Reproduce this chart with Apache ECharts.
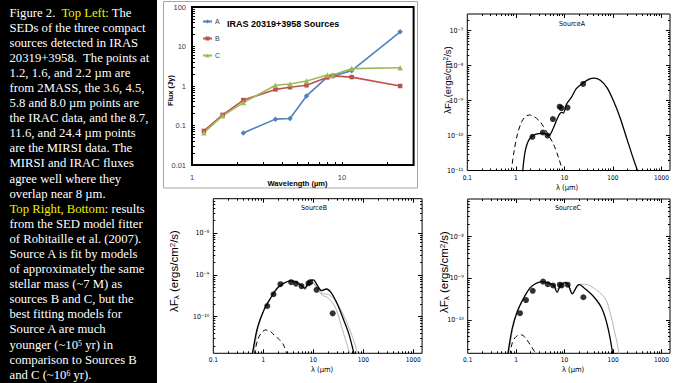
<!DOCTYPE html>
<html><head><meta charset="utf-8">
<script src="https://cdn.jsdelivr.net/npm/echarts@6/dist/echarts.min.js"></script>
<style>
html,body{margin:0;padding:0;background:#fff;overflow:hidden;}
#chart{position:absolute;left:0;top:0;width:673px;height:383px;}
#cap{position:absolute;left:0;top:0;width:157px;height:383px;background:#000;color:#fff;overflow:hidden;
 font-family:"Liberation Serif","Times New Roman",Tinos,"Nimbus Roman","DejaVu Serif",serif;font-size:12.8px;line-height:15.1px;
 padding:5.5px 0 0 9.5px;box-sizing:border-box;white-space:nowrap;}
.y{color:#f0f000}
sup{font-size:0.62em;line-height:0;vertical-align:0.4em}
</style></head><body>
<div id="chart"></div>
<div id="cap"><span id="l1">Figure 2.&nbsp; <span class="y">Top Left:</span> The</span><br><span id="probe">SEDs of the three compact</span><br>sources detected in IRAS<br>20319+3958.&nbsp; The points at<br>1.2, 1.6, and 2.2 µm are<br>from 2MASS, the 3.6, 4.5,<br>5.8 and 8.0 µm points are<br>the IRAC data, and the 8.7,<br>11.6, and 24.4 µm points<br>are the MIRSI data. The<br>MIRSI and IRAC fluxes<br>agree well where they<br>overlap near 8 µm.<br><span class="y">Top Right, Bottom</span>: results<br>from the SED model fitter<br>of Robitaille et al. (2007).<br>Source A is fit by models<br>of approximately the same<br>stellar mass (~7 M) as<br>sources B and C, but the<br>best fitting models for<br>Source A are much<br>younger (~10<sup>5</sup> yr) in<br>comparison to Sources B<br>and C (~10<sup>6</sup> yr).</div>
<script>
// ---------- Top-left chart data (Flux in Jy) ----------
const tlWave = [1.2, 1.6, 2.2, 3.6, 4.5, 5.8, 8.0, 8.7, 11.6, 24.4];
const fluxA = [null, null, 0.065, 0.145, 0.15, 0.56, 1.7, 1.8, 2.45, 23.6];
const fluxB = [0.073, 0.186, 0.44, 0.82, 0.93, 1.04, 1.66, 1.8, 1.68, 1.0];
const fluxC = [0.066, 0.176, 0.38, 1.04, 1.12, 1.34, 1.9, 1.9, 2.76, 2.9];
const tlSeriesNames = ['A', 'B', 'C'];

// ---------- SED photometry (lambda F_lambda, erg/cm2/s) ----------
const photWave = [1.2, 1.6, 2.2, 3.6, 4.5, 5.8, 8.0, 8.7, 11.6, 24.4];
const photA = [null, null, 9.2e-11, 1.22e-10, 1.0e-10, 2.96e-10, 6.7e-10, 6.1e-10, 6.3e-10, 3.0e-9];
const photB = [1.8e-10, 3.45e-10, 6.0e-10, 6.7e-10, 6.2e-10, 5.4e-10, 6.3e-10, 6.7e-10, 4.4e-10, 1.2e-10];
const photC = [1.45e-10, 3.0e-10, 5.0e-10, 8.3e-10, 7.2e-10, 6.7e-10, 7.0e-10, 6.7e-10, 7.0e-10, 3.5e-10];

// ---------- SED model curves ----------
const modelAWave = [1.38, 1.56, 1.9, 2.58, 3.8, 4.8, 6.0, 7.6, 8.8, 9.5, 11.1, 14, 17.6, 24, 32.5, 41, 55, 76, 102, 140, 190, 260, 330];
const modelAFlux = [9e-12, 3.6e-11, 7.9e-11, 1.1e-10, 1.15e-10, 1.0e-10, 1.7e-10, 3.7e-10, 4.6e-10, 4.4e-10, 8e-10, 1.25e-9, 2.2e-9, 3.15e-9, 4.1e-9, 4.4e-9, 3.8e-9, 2.3e-9, 1e-9, 3.3e-10, 8.8e-11, 2.3e-11, 9e-12];
const starAWave = [0.8, 0.92, 1.08, 1.3, 1.56, 1.9, 2.4, 3.25, 4.4, 6.0, 7.6, 9.4];
const starAFlux = [9e-12, 3.6e-11, 1.1e-10, 2.37e-10, 3.46e-10, 3.87e-10, 3.46e-10, 2.37e-10, 1.2e-10, 5.6e-11, 2.3e-11, 9e-12];

const modelBWave = [0.6, 0.76, 1.03, 1.39, 1.89, 2.54, 3.45, 4.67, 5.85, 6.8, 7.9, 10, 12.4, 14.5, 18.2, 22.9, 30.8, 41.7, 52.3, 66];
const modelBFlux = [1.2e-11, 5.3e-11, 1.45e-10, 2.76e-10, 4.8e-10, 6.3e-10, 7.2e-10, 6.7e-10, 5.55e-10, 4.8e-10, 6.7e-10, 7.6e-10, 5.3e-10, 4.2e-10, 4.6e-10, 3.7e-10, 1.9e-10, 7.6e-11, 3.6e-11, 1.2e-11];
const greyB1Wave = [0.62, 0.76, 1.03, 1.39, 1.89, 2.54, 3.45, 4.67, 5.85, 6.8, 8, 10, 12.4, 15, 20, 28, 38, 48, 56];
const greyB1Flux = [1.2e-11, 5e-11, 1.4e-10, 2.7e-10, 4.7e-10, 6.2e-10, 7e-10, 6.4e-10, 5.2e-10, 4.4e-10, 5.8e-10, 6.2e-10, 4.3e-10, 3.3e-10, 2.8e-10, 1.6e-10, 5e-11, 2e-11, 1.1e-11];
const greyB2Wave = [0.64, 0.78, 1.03, 1.39, 1.89, 2.54, 3.45, 4.67, 5.85, 6.8, 8, 10, 12.4, 15, 20, 28, 40, 55, 68, 80];
const greyB2Flux = [1.2e-11, 5e-11, 1.4e-10, 2.7e-10, 4.7e-10, 6.2e-10, 7.1e-10, 6.5e-10, 5.4e-10, 4.6e-10, 6.0e-10, 6.6e-10, 4.6e-10, 3.6e-10, 3.4e-10, 2.4e-10, 1.1e-10, 4.5e-11, 2.2e-11, 1.1e-11];
const starBWave = [0.66, 0.76, 0.9, 1.11, 1.4, 1.65, 2.1, 2.54, 3.0];
const starBFlux = [1.2e-11, 2.6e-11, 4.0e-11, 4.8e-11, 4.4e-11, 3.6e-11, 2.8e-11, 2.1e-11, 1.2e-11];

const modelCWave = [0.66, 0.83, 1.05, 1.42, 1.92, 2.6, 3.5, 4.78, 6.0, 7.0, 8.2, 10.5, 12.3, 14.4, 18.2, 20.3, 25.5, 40, 58.6, 79, 100];
const modelCFlux = [1.3e-11, 6.3e-11, 1.58e-10, 3.3e-10, 5.8e-10, 7.6e-10, 8.3e-10, 7.6e-10, 6.7e-10, 4.6e-10, 6.7e-10, 8e-10, 6.3e-10, 4.2e-10, 6.6e-10, 7e-10, 5.8e-10, 3.6e-10, 1.9e-10, 6.3e-11, 1.4e-11];
const greyCWave = [0.7, 0.85, 1.05, 1.42, 1.92, 2.6, 3.5, 4.78, 6, 7, 8.2, 10.5, 12.3, 14.4, 18.2, 22, 30, 45, 60, 74, 90, 100, 120, 135];
const greyCFlux = [1.4e-11, 6e-11, 1.5e-10, 3.2e-10, 5.7e-10, 7.5e-10, 8.2e-10, 7.7e-10, 6.9e-10, 5.5e-10, 6.6e-10, 7.6e-10, 6.3e-10, 4.6e-10, 6.5e-10, 7.2e-10, 7e-10, 5.3e-10, 4e-10, 2.8e-10, 1.3e-10, 7.6e-11, 3e-11, 1.4e-11];
const starCWave = [0.75, 0.83, 1.0, 1.26, 1.5, 1.92, 2.6, 2.9];
const starCFlux = [1.4e-11, 2.8e-11, 4.0e-11, 4.4e-11, 3.9e-11, 2.6e-11, 1.5e-11, 1.3e-11];

// ---------- caption font: pick an installed Times-like face and fit the reference line width ----------
(function fitCaption() {
  const cap = document.getElementById('cap');
  const cands = ['Liberation Serif', 'Times New Roman', 'Tinos', 'Nimbus Roman', 'Nimbus Roman No9 L', 'FreeSerif', 'DejaVu Serif', 'Noto Serif'];
  const ctx = document.createElement('canvas').getContext('2d');
  const test = 'SEDs of the three compact WMiil 0123';
  let chosen = null;
  for (const fam of cands) {
    let same = true;
    for (const fb of ['monospace', 'sans-serif']) {
      ctx.font = '40px ' + fb; const b = ctx.measureText(test).width;
      ctx.font = '40px "' + fam + '", ' + fb; const w = ctx.measureText(test).width;
      if (Math.abs(w - b) > 0.5) { same = false; }
    }
    if (!same) { chosen = fam; break; }
  }
  const famCss = chosen ? '"' + chosen + '", serif' : 'serif';
  cap.style.fontFamily = famCss;
  ctx.font = '100px ' + famCss;
  const w100 = ctx.measureText('SEDs of the three compact').width;
  let fs = 136 / w100 * 100;
  fs = Math.max(10, Math.min(14, fs));
  cap.style.fontSize = fs.toFixed(2) + 'px';
})();

// ---------- helpers ----------
const LOG = Math.log10;
function zip(xs, ys) { return xs.map((x, i) => ys[i] == null ? null : [x, ys[i]]).filter(Boolean); }
function logVals(lo, hi, ks) {
  const out = [];
  for (let d = Math.floor(LOG(lo)) - 1; d <= Math.ceil(LOG(hi)); d++)
    for (const k of ks) { const v = k * Math.pow(10, d); if (v >= lo * 1.0001 && v <= hi * 0.9999) out.push(LOG(v)); }
  return out;
}
const SUP = {'-': '⁻', '0': '⁰', '1': '¹', '2': '²', '3': '³', '4': '⁴', '5': '⁵', '6': '⁶', '7': '⁷', '8': '⁸', '9': '⁹'};
function isPow(v) { const e = LOG(v); return Math.abs(e - Math.round(e)) < 1e-6; }
function powLabel(v) { if (!isPow(v)) return ''; const r = Math.round(LOG(v)); return '10' + String(r).split('').map(c => SUP[c]).join(''); }
function numLabel(v) { if (!isPow(v)) return ''; const r = Math.round(LOG(v)); return r >= 0 ? String(Math.round(v)) : v.toFixed(-r); }

const SANS = '"Liberation Sans", Arial, sans-serif';
const NARROW = '"Liberation Sans Narrow", "DejaVu Sans Condensed", "Liberation Sans", sans-serif';

const grid = [], xAxis = [], yAxis = [], series = [];
function mainAxis(kind, gi, pos, lo, hi, fmt, lab) {
  const arr = kind === 'x' ? xAxis : yAxis;
  arr.push({type: 'log', logBase: 10, gridIndex: gi, position: pos, min: lo, max: hi,
    axisLine: {show: false, onZero: false}, axisTick: {show: false}, splitLine: {show: false},
    minorTick: {show: false}, minorSplitLine: {show: false},
    axisLabel: Object.assign({formatter: fmt, showMinLabel: true, showMaxLabel: true}, lab)});
  return arr.length - 1;
}
function tickAxis(kind, gi, pos, lo, hi, ks, len) {
  const arr = kind === 'x' ? xAxis : yAxis;
  arr.push({type: 'value', gridIndex: gi, position: pos, min: LOG(lo), max: LOG(hi), silent: true,
    axisLine: {show: false, onZero: false}, axisLabel: {show: false}, splitLine: {show: false},
    axisTick: {show: true, inside: true, length: len, customValues: logVals(lo, hi, ks), lineStyle: {color: '#000', width: 1}}});
}

// ---------- Top-left chart ----------
const TLX = [1, 30], TLY = [0.01, 100];
grid.push({left: 192, top: 7, width: 221.6, height: 158, show: true, borderColor: '#000', borderWidth: 2, backgroundColor: 'transparent'});
const tlx = mainAxis('x', 0, 'bottom', TLX[0], TLX[1], numLabel, {fontSize: 7.5, color: '#404040', fontFamily: SANS, margin: 8});
const tly = mainAxis('y', 0, 'left', TLY[0], TLY[1], numLabel, {fontSize: 7.5, color: '#404040', fontFamily: SANS, margin: 6});
tickAxis('x', 0, 'bottom', TLX[0], TLX[1], [1, 2, 3, 4, 5, 6, 7, 8, 9], 3);
tickAxis('y', 0, 'left', TLY[0], TLY[1], [1, 2, 3, 4, 5, 6, 7, 8, 9], 3);
const tlColors = ['#4F81BD', '#C0504D', '#9BBB59'];
const tlSymbols = ['diamond', 'rect', 'triangle'];
[fluxA, fluxB, fluxC].forEach((f, i) => {
  series.push({type: 'line', name: tlSeriesNames[i], xAxisIndex: tlx, yAxisIndex: tly, data: zip(tlWave, f),
    symbol: tlSymbols[i], symbolSize: i === 1 ? 4.5 : 5.5, showSymbol: true,
    lineStyle: {width: 1.6, color: tlColors[i]}, itemStyle: {color: tlColors[i]}, z: 3});
});

// ---------- SED panels ----------
const SEDX = [0.1, 1500];
const panels = [
  {name: 'SourceA', rect: {left: 467.3, top: 14, width: 209.2, height: 156.5}, y: [1e-11, 3e-7],
   phot: photA, model: [modelAWave, modelAFlux], greys: [], star: [starAWave, starAFlux]},
  {name: 'SourceB', rect: {left: 213.3, top: 198.7, width: 208.8, height: 154.6}, y: [1.32e-11, 6.76e-8],
   phot: photB, model: [modelBWave, modelBFlux], greys: [[greyB1Wave, greyB1Flux], [greyB2Wave, greyB2Flux]], star: [starBWave, starBFlux]},
  {name: 'SourceC', rect: {left: 467.7, top: 199, width: 210, height: 154.3}, y: [1.58e-11, 8.0e-8],
   phot: photC, model: [modelCWave, modelCFlux], greys: [[greyCWave, greyCFlux]], star: [starCWave, starCFlux]}
];
const ks19 = [2, 3, 4, 5, 6, 7, 8, 9];
panels.forEach((p) => {
  grid.push(Object.assign({show: true, borderColor: '#000', borderWidth: 1, backgroundColor: 'transparent'}, p.rect));
  const gi = grid.length - 1;
  const xi = mainAxis('x', gi, 'bottom', SEDX[0], SEDX[1], numLabel, {fontSize: 6.5, color: '#000', fontFamily: NARROW, margin: 3.5});
  const yi = mainAxis('y', gi, 'left', p.y[0], p.y[1], powLabel, {fontSize: 7, color: '#000', fontFamily: NARROW, margin: 4});
  for (const pos of ['bottom', 'top']) { tickAxis('x', gi, pos, SEDX[0], SEDX[1], [1], 4); tickAxis('x', gi, pos, SEDX[0], SEDX[1], ks19, 2); }
  for (const pos of ['left', 'right']) { tickAxis('y', gi, pos, p.y[0], p.y[1], [1], 4); tickAxis('y', gi, pos, p.y[0], p.y[1], ks19, 2); }
  p.greys.forEach(g => series.push({type: 'line', xAxisIndex: xi, yAxisIndex: yi, data: zip(g[0], g[1]), symbol: 'none', smooth: 0.3,
    lineStyle: {color: '#b4b4b4', width: 1}, silent: true, z: 2}));
  series.push({type: 'line', xAxisIndex: xi, yAxisIndex: yi, data: zip(p.star[0], p.star[1]), symbol: 'none', smooth: 0.3,
    lineStyle: {color: '#000', width: 1, type: [5, 3.5]}, silent: true, z: 3});
  series.push({type: 'line', xAxisIndex: xi, yAxisIndex: yi, data: zip(p.model[0], p.model[1]), symbol: 'none', smooth: 0.3,
    lineStyle: {color: '#000', width: 1.3}, silent: true, z: 3});
  series.push({type: 'scatter', xAxisIndex: xi, yAxisIndex: yi, data: zip(photWave, p.phot), symbol: 'circle', symbolSize: 6,
    itemStyle: {color: '#000'}, silent: true, z: 4});
});

const titleSED = {fontSize: 7, fontWeight: 'normal', color: '#000', fontFamily: NARROW};
const yTitleRich = (fs, sfs) => ({s: {fontSize: sfs, fontFamily: SANS, verticalAlign: 'bottom', lineHeight: fs}, p: {fontSize: sfs, fontFamily: SANS, verticalAlign: 'top', lineHeight: fs}});
const option = {
  animation: false,
  backgroundColor: '#fff',
  grid, xAxis, yAxis, series,
  legend: {data: tlSeriesNames, orient: 'vertical', left: 197, top: 13, itemWidth: 9, itemHeight: 5, itemGap: 10,
    textStyle: {fontSize: 7, color: '#404040', fontFamily: SANS, padding: [0, 0, 0, -2]}, selectedMode: false},
  title: [
    {text: 'IRAS 20319+3958 Sources', left: 227, top: 19.5, padding: 0, textStyle: {fontSize: 9, fontWeight: 'bold', color: '#000', fontFamily: SANS}},
    {text: 'SourceA', left: 572, top: 20.5, padding: 0, textAlign: 'center', textStyle: titleSED},
    {text: 'SourceB', left: 314, top: 204, padding: 0, textAlign: 'center', textStyle: titleSED},
    {text: 'SourceC', left: 568, top: 204, padding: 0, textAlign: 'center', textStyle: titleSED}
  ],
  graphic: [
    {type: 'rect', shape: {x: 163.5, y: 1.5, width: 254, height: 186.5}, style: {fill: 'none', stroke: '#a6a6a6', lineWidth: 1}, silent: true, z: -1},
    {type: 'text', x: 297.5, y: 183, style: {text: 'Wavelength (µm)', font: 'bold 7.5px ' + SANS, fill: '#000', align: 'center', verticalAlign: 'middle'}},
    {type: 'text', x: 170, y: 90.5, rotation: Math.PI / 2, style: {text: 'Flux (Jy)', font: 'bold 7.5px ' + SANS, fill: '#000', align: 'center', verticalAlign: 'middle'}},
    {type: 'text', x: 567, y: 187, style: {text: 'λ (µm)', font: '7.5px ' + NARROW, fill: '#000', align: 'center', verticalAlign: 'middle'}},
    {type: 'text', x: 322, y: 369, style: {text: 'λ (µm)', font: '7.5px ' + NARROW, fill: '#000', align: 'center', verticalAlign: 'middle'}},
    {type: 'text', x: 573, y: 369, style: {text: 'λ (µm)', font: '7.5px ' + NARROW, fill: '#000', align: 'center', verticalAlign: 'middle'}},
    {type: 'text', x: 447, y: 80, rotation: Math.PI / 2, style: {text: 'λF{s|λ} (ergs/cm{p|2}/s)', fontSize: 9.5, fontFamily: SANS, fill: '#000', align: 'center', verticalAlign: 'middle', rich: yTitleRich(9, 6.5)}},
    {type: 'text', x: 174, y: 271, rotation: Math.PI / 2, style: {text: 'λF{s|λ} (ergs/cm{p|2}/s)', fontSize: 11.5, fontFamily: SANS, fill: '#000', align: 'center', verticalAlign: 'middle', rich: yTitleRich(11, 8)}},
    {type: 'text', x: 444, y: 272, rotation: Math.PI / 2, style: {text: 'λF{s|λ} (ergs/cm{p|2}/s)', fontSize: 11.5, fontFamily: SANS, fill: '#000', align: 'center', verticalAlign: 'middle', rich: yTitleRich(11, 8)}}
  ]
};
const chart = echarts.init(document.getElementById('chart'), null, {renderer: 'svg', width: 673, height: 383});
chart.setOption(option);
</script>
</body></html>
